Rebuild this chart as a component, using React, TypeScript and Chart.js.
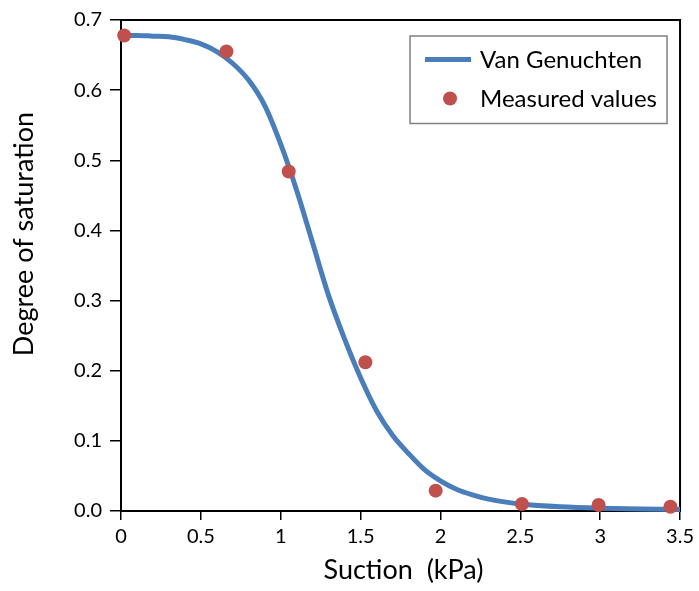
import { useEffect, useRef } from "react";
import { Chart, registerables } from "chart.js";

Chart.register(...registerables);

// Van Genuchten fitted curve
const curveSuction = [0, 0.1, 0.2, 0.3, 0.4, 0.5, 0.6, 0.7, 0.8, 0.9, 1.0, 1.1, 1.2, 1.3, 1.4, 1.5, 1.6, 1.7, 1.8, 1.9, 2.0, 2.1, 2.2, 2.3, 2.4, 2.5, 2.75, 3.0, 3.25, 3.5];
const curveSaturation = [0.678, 0.678, 0.677, 0.676, 0.672, 0.666, 0.655, 0.638, 0.614, 0.578, 0.523, 0.457, 0.382, 0.307, 0.245, 0.19, 0.143, 0.108, 0.082, 0.059, 0.043, 0.031, 0.023, 0.017, 0.013, 0.01, 0.006, 0.004, 0.003, 0.002];

// Measured values
const measuredSuction = [0.02, 0.66, 1.05, 1.53, 1.97, 2.51, 2.99, 3.44];
const measuredSaturation = [0.678, 0.655, 0.484, 0.212, 0.029, 0.01, 0.0085, 0.006];

const xTickValues = [0, 0.5, 1, 1.5, 2, 2.5, 3, 3.5];
const xTickLabels = ["0", "0.5", "1", "1.5", "2", "2.5", "3", "3.5"];
const yTickValues = [0, 0.1, 0.2, 0.3, 0.4, 0.5, 0.6, 0.7];
const yTickLabels = ["0.0", "0.1", "0.2", "0.3", "0.4", "0.5", "0.6", "0.7"];

const seriesNames = ["Van Genuchten", "Measured values"];
const xTitle = "Suction  (kPa)";
const yTitle = "Degree of saturation";

const FONT = "Lato, 'Open Sans', sans-serif";

const framePlugin = {
  id: "frame",
  beforeDatasetsDraw(chart: any) {
    const { ctx, chartArea } = chart;
    ctx.save();
    ctx.strokeStyle = "#000";
    ctx.lineWidth = 2;
    ctx.strokeRect(chartArea.left, chartArea.top, chartArea.right - chartArea.left, chartArea.bottom - chartArea.top);
    ctx.restore();
  },
};

const titlesPlugin = {
  id: "axisTitles",
  afterDraw(chart: any) {
    const { ctx, chartArea } = chart;
    ctx.save();
    ctx.fillStyle = "#000";
    ctx.font = `27px ${FONT}`;
    ctx.textAlign = "center";
    ctx.textBaseline = "middle";
    ctx.fillText(xTitle, (chartArea.left + chartArea.right) / 2 + 3, chartArea.bottom + 59);
    ctx.translate(24, chartArea.top + 214);
    ctx.rotate(-Math.PI / 2);
    ctx.fillText(yTitle, 0, 0);
    ctx.restore();
  },
};

const legendPlugin = {
  id: "boxLegend",
  afterDatasetsDraw(chart: any) {
    const { ctx, chartArea } = chart;
    const x0 = chartArea.right - 270;
    const y0 = chartArea.top + 16;
    const w = 257;
    const h = 87.5;
    ctx.save();
    ctx.fillStyle = "#fff";
    ctx.fillRect(x0, y0, w, h);
    ctx.strokeStyle = "#808080";
    ctx.lineWidth = 1.5;
    ctx.strokeRect(x0, y0, w, h);
    chart.data.datasets.forEach((ds: any, i: number) => {
      const cy = y0 + 23.5 + i * 39;
      if (ds.showLine) {
        ctx.strokeStyle = ds.borderColor;
        ctx.lineWidth = ds.borderWidth;
        ctx.beginPath();
        ctx.moveTo(x0 + 15, cy);
        ctx.lineTo(x0 + 61, cy);
        ctx.stroke();
      } else {
        ctx.fillStyle = ds.pointBackgroundColor;
        ctx.beginPath();
        ctx.arc(x0 + 40, cy, ds.pointRadius, 0, Math.PI * 2);
        ctx.fill();
      }
      ctx.fillStyle = "#000";
      ctx.font = `24px ${FONT}`;
      ctx.textAlign = "left";
      ctx.textBaseline = "middle";
      ctx.fillText(ds.label, x0 + 70, cy + 1);
    });
    ctx.restore();
  },
};

export default function App() {
  const ref = useRef<HTMLCanvasElement | null>(null);

  useEffect(() => {
    document.body.style.margin = "0";
    const canvas = ref.current;
    if (!canvas) return;
    const chart = new Chart(canvas, {
      type: "scatter",
      data: {
        datasets: [
          {
            label: seriesNames[0],
            data: curveSuction.map((x, i) => ({ x, y: curveSaturation[i] })),
            showLine: true,
            borderColor: "#4A7EBB",
            backgroundColor: "#4A7EBB",
            borderWidth: 5,
            pointRadius: 0,
            cubicInterpolationMode: "monotone",
            clip: false,
            order: 2,
          } as any,
          {
            label: seriesNames[1],
            data: measuredSuction.map((x, i) => ({ x, y: measuredSaturation[i] })),
            showLine: false,
            pointRadius: 7,
            pointBackgroundColor: "#C0504D",
            pointBorderWidth: 0,
            backgroundColor: "#C0504D",
            borderColor: "#C0504D",
            clip: false,
            order: 1,
          } as any,
        ],
      },
      options: {
        animation: false,
        responsive: false,
        maintainAspectRatio: false,
        layout: { padding: { top: 18, right: 16, left: 0, bottom: 0 } },
        plugins: { legend: { display: false }, tooltip: { enabled: false } },
        scales: {
          x: {
            type: "linear",
            min: 0,
            max: 3.5,
            afterBuildTicks: (s: any) => {
              s.ticks = xTickValues.map((v) => ({ value: v }));
            },
            afterFit: (s: any) => {
              s.height = 80;
            },
            ticks: {
              autoSkip: false,
              maxRotation: 0,
              padding: 5,
              color: "#000",
              font: { family: FONT, size: 20 },
              callback: (v: any) => {
                const i = xTickValues.findIndex((t) => Math.abs(t - Number(v)) < 1e-9);
                return i >= 0 ? xTickLabels[i] : "";
              },
            },
            grid: { display: true, drawOnChartArea: false, drawTicks: true, tickLength: 9, color: "#000", lineWidth: 1.5 },
            border: { display: true, color: "#000", width: 2 },
          },
          y: {
            type: "linear",
            min: 0,
            max: 0.7,
            afterBuildTicks: (s: any) => {
              s.ticks = yTickValues.map((v) => ({ value: v }));
            },
            afterFit: (s: any) => {
              s.width = 121;
            },
            ticks: {
              autoSkip: false,
              padding: 8,
              color: "#000",
              font: { family: FONT, size: 20 },
              callback: (v: any) => {
                const i = yTickValues.findIndex((t) => Math.abs(t - Number(v)) < 1e-9);
                return i >= 0 ? yTickLabels[i] : "";
              },
            },
            grid: { display: true, drawOnChartArea: false, drawTicks: true, tickLength: 11, color: "#000", lineWidth: 1.5 },
            border: { display: true, color: "#000", width: 2 },
          },
        },
      },
      plugins: [framePlugin, legendPlugin, titlesPlugin],
    });
    return () => chart.destroy();
  }, []);

  return (
    <div style={{ width: 699, height: 591 }}>
      <canvas ref={ref} width={699} height={591} style={{ display: "block" }} />
    </div>
  );
}
